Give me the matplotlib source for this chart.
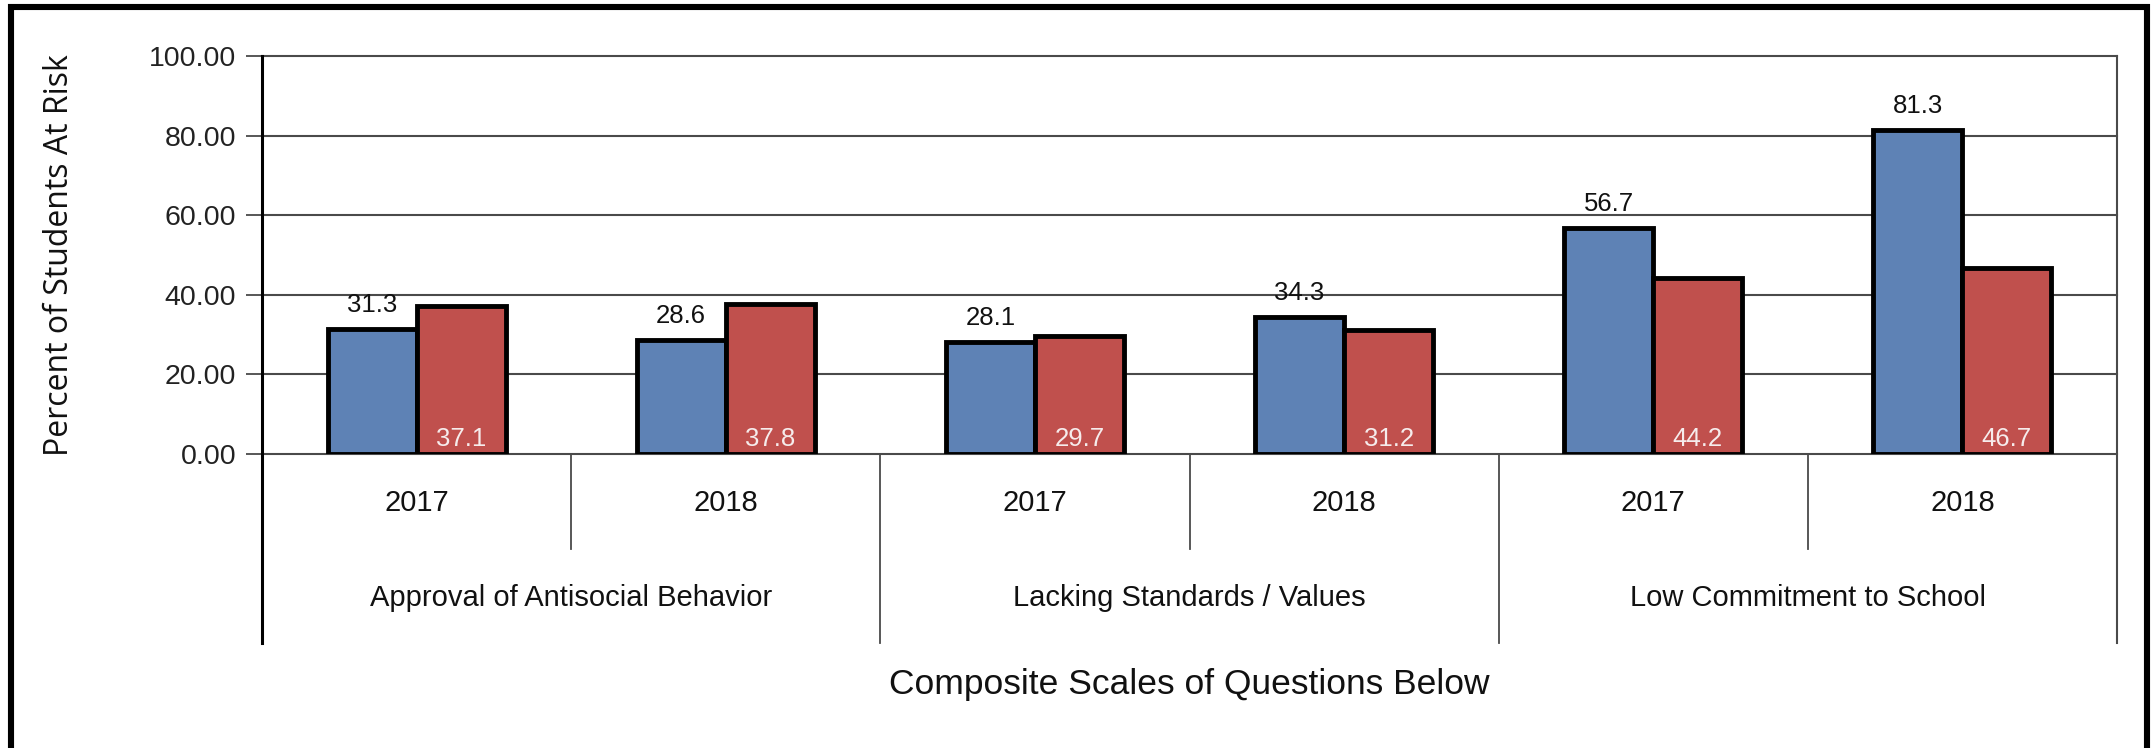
import matplotlib
matplotlib.use("Agg")
import matplotlib.pyplot as plt
import matplotlib.transforms as mtransforms
from matplotlib.patches import Rectangle

# ---- data ----
groups = ["Approval of Antisocial Behavior", "Lacking Standards / Values", "Low Commitment to School"]
years = ["2017", "2018", "2017", "2018", "2017", "2018"]
blue_values = [31.3, 28.6, 28.1, 34.3, 56.7, 81.3]
red_values = [37.1, 37.8, 29.7, 31.2, 44.2, 46.7]
y_ticks = [0, 20, 40, 60, 80, 100]
y_label = "Percent of Students At Risk"
x_label = "Composite Scales of Questions Below"

BLUE = "#5E82B5"
RED = "#C0504D"
GRID = "#4a4a4a"
FONT = ["Liberation Sans", "DejaVu Sans"]

W, H = 2151, 748
fig = plt.figure(figsize=(W / 100, H / 100), dpi=100)
fig.patch.set_facecolor("white")

left, right, top, bottom = 262, 2117, 56, 454
ax = fig.add_axes([left / W, 1 - bottom / H, (right - left) / W, (bottom - top) / H])

n = len(years)
xs = [i + 0.5 for i in range(n)]
bw = 0.288
ax.bar([x - bw / 2 for x in xs], blue_values, width=bw, color=BLUE,
       edgecolor="black", linewidth=3.5, zorder=3)
ax.bar([x + bw / 2 for x in xs], red_values, width=bw, color=RED,
       edgecolor="black", linewidth=3.5, zorder=3)

# value labels
for x, v in zip(xs, blue_values):
    ax.annotate(f"{v:.1f}", (x - bw / 2, v), xytext=(0, 24), textcoords="offset pixels",
                ha="center", va="center", fontsize=18.5, family=FONT, color="#111111", zorder=5)
for x, v in zip(xs, red_values):
    ax.annotate(f"{v:.1f}", (x + bw / 2, 0), xytext=(0, 15), textcoords="offset pixels",
                ha="center", va="center", fontsize=18.5, family=FONT, color="#F6ECEC", zorder=5)

ax.set_xlim(0, n)
ax.set_ylim(0, 100)

# gridlines
for t in y_ticks[1:]:
    ax.axhline(t, color=GRID, linewidth=1.5, zorder=1, clip_on=False)

ax.set_yticks(y_ticks)
ax.set_yticklabels([f"{t:.2f}" for t in y_ticks], fontsize=20.5, family=FONT, color="#222222")
ax.tick_params(axis="y", length=11.5, width=1.3, color=GRID, pad=7)
ax.set_xticks([])

for s in ["top", "right"]:
    ax.spines[s].set_visible(False)
ax.spines["left"].set_visible(False)
ax.spines["bottom"].set_color(GRID)
ax.spines["bottom"].set_linewidth(1.5)

trans = mtransforms.blended_transform_factory(ax.transData, ax.transAxes)
# left axis line (black, extends down through category area)
ax.plot([0, 0], [1, -0.475], transform=trans, color="black", linewidth=2.2, clip_on=False, zorder=4)
# right border of plot
ax.plot([n, n], [1, -0.475], transform=trans, color=GRID, linewidth=1.5, clip_on=False, zorder=4)
# separators
for i in range(1, n):
    y_end = -0.475 if i % 2 == 0 else -0.239
    ax.plot([i, i], [0, y_end], transform=trans, color=GRID, linewidth=1.3, clip_on=False)

# year labels
for x, yr in zip(xs, years):
    ax.text(x, -0.123, yr, transform=trans, ha="center", va="center", fontsize=21, family=FONT,
            color="#111111")
# group labels
for g, name in enumerate(groups):
    ax.text(2 * g + 1, -0.362, name, transform=trans, ha="center", va="center", fontsize=21,
            family=FONT, color="#111111")

# axis titles
fig.text(60 / W, 1 - 255 / H, y_label, rotation=90, ha="center", va="center",
         fontsize=23, family=["Open Sans", "DejaVu Sans"], color="#111111")
ax.text(n / 2, -0.580, x_label, transform=trans, ha="center", va="center", fontsize=25.5,
        family=FONT, color="#111111")

# outer border
border = Rectangle((11 / W, -0.1), (2147 - 11) / W, 1 - 6.5 / H + 0.1, transform=fig.transFigure,
                   fill=False, edgecolor="black", linewidth=4.4, clip_on=False)
fig.patches.append(border)

fig.savefig("out.png", dpi=100)
